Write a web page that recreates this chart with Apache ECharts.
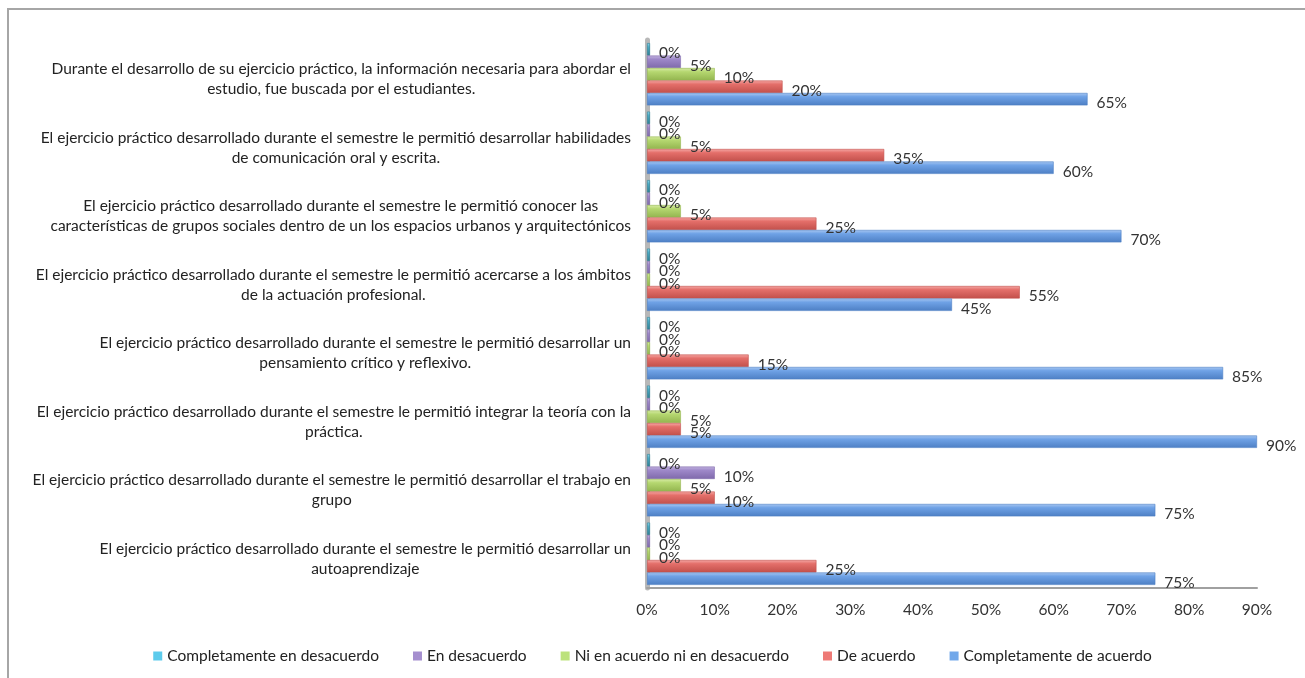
<!DOCTYPE html>
<html>
<head>
<meta charset="utf-8">
<script src="https://cdn.jsdelivr.net/npm/echarts@6/dist/echarts.min.js"></script>
<style>
  html, body { margin: 0; padding: 0; background: #fff; overflow: hidden; }
  #frame {
    position: absolute; left: 7px; top: 8px; width: 1400px; height: 800px;
    border-left: 2px solid #a6a6a6; border-top: 2px solid #a6a6a6;
  }
  #chart { position: absolute; left: 0; top: 0; width: 1305px; height: 678px; }
</style>
</head>
<body>
<div id="frame"></div>
<div id="chart"></div>
<script>
// Survey statements, listed top to bottom
const categories = [
  "Durante el desarrollo de su ejercicio práctico, la información necesaria para abordar el\nestudio, fue buscada por el estudiantes.",
  "El ejercicio práctico desarrollado durante el semestre le permitió desarrollar habilidades\nde comunicación oral y escrita.",
  "El ejercicio práctico desarrollado durante el semestre le permitió conocer las\ncaracterísticas de grupos sociales dentro de un los espacios urbanos y arquitectónicos",
  "El ejercicio práctico desarrollado durante el semestre le permitió acercarse a los ámbitos\nde la actuación profesional.",
  "El ejercicio práctico desarrollado durante el semestre le permitió desarrollar un\npensamiento crítico y reflexivo.",
  "El ejercicio práctico desarrollado durante el semestre le permitió integrar la teoría con la\npráctica.",
  "El ejercicio práctico desarrollado durante el semestre le permitió desarrollar el trabajo en\ngrupo",
  "El ejercicio práctico desarrollado durante el semestre le permitió desarrollar un\nautoaprendizaje"
];

const seriesNames = [
  "Completamente en desacuerdo",
  "En desacuerdo",
  "Ni en acuerdo ni en desacuerdo",
  "De acuerdo",
  "Completamente de acuerdo"
];

// Percentages per statement (same order as categories)
const completamenteDesacuerdo = [0, 0, 0, 0, 0, 0, 0, 0];
const enDesacuerdo            = [5, 0, 0, 0, 0, 0, 10, 0];
const niAcuerdoNiDesacuerdo   = [10, 5, 5, 0, 0, 5, 5, 0];
const deAcuerdo               = [20, 35, 25, 55, 15, 5, 10, 25];
const completamenteAcuerdo    = [65, 60, 70, 45, 85, 90, 75, 75];

const xTicks = { min: 0, max: 90, interval: 10 };

// [top highlight, face, bottom shade, legend swatch]
const palette = [
  ["#8fd9ee", "#4bacc6", "#2f7f93", "#5ccbec"],
  ["#c3b5e0", "#9e88c9", "#7f69ab", "#a58fcf"],
  ["#d8eca6", "#b5d770", "#93b54f", "#bce27c"],
  ["#f5a9a6", "#e46f6a", "#c2504b", "#ee7a76"],
  ["#a9c8f2", "#6fa2e6", "#4d7fc4", "#72a8ea"]
];

const values = [completamenteDesacuerdo, enDesacuerdo, niAcuerdoNiDesacuerdo, deAcuerdo, completamenteAcuerdo];

const FONT = 'Lato';
const FS = 15.5;

function grad(c) {
  return new echarts.graphic.LinearGradient(0, 0, 0, 1, [
    { offset: 0, color: c[0] },
    { offset: 0.3, color: c[1] },
    { offset: 1, color: c[2] }
  ]);
}

const series = seriesNames.map((name, i) => ({
  name: name,
  type: 'bar',
  data: values[i],
  barGap: '0%',
  barCategoryGap: '9%',
  barMinHeight: 3,
  itemStyle: {
    color: grad(palette[i]),
    borderColor: palette[i][2],
    borderWidth: 0.6
  },
  label: {
    show: true,
    position: 'right',
    distance: 9,
    offset: [0, 4],
    formatter: '{c}%',
    fontFamily: FONT,
    fontSize: FS,
    color: '#333'
  }
}));

const chart = echarts.init(document.getElementById('chart'), null, { renderer: 'canvas' });
chart.setOption({
  animation: false,
  color: palette.map(p => p[1]),
  grid: { left: 647, right: 48, top: 40, height: 548, containLabel: false },
  xAxis: {
    type: 'value',
    min: xTicks.min, max: xTicks.max, interval: xTicks.interval,
    axisLine: { show: true, lineStyle: { color: '#a0a0a0', width: 2 } },
    axisTick: { show: false },
    splitLine: { show: false },
    axisLabel: {
      formatter: '{value}%',
      fontFamily: FONT, fontSize: FS, color: '#333', margin: 14
    }
  },
  yAxis: {
    type: 'category',
    inverse: true,
    data: categories,
    axisLine: { show: true, lineStyle: { color: '#b8b8b8', width: 5 } },
    axisTick: { show: false },
    axisLabel: {
      margin: 16,
      padding: [10, 0, 0, 0],
      formatter: function (v) {
        return v.split('\n').map(s => '{c|' + s + '}').join('\n');
      },
      rich: {
        c: { align: 'center', fontFamily: FONT, fontSize: FS, color: '#222', lineHeight: 20 }
      }
    }
  },
  legend: {
    data: seriesNames.map((n, i) => ({ name: n, itemStyle: { color: palette[i][3], borderWidth: 0 } })),
    bottom: 9,
    left: 'center',
    icon: 'rect',
    itemWidth: 9,
    itemHeight: 9,
    itemGap: 34,
    textStyle: { fontFamily: FONT, fontSize: FS, color: '#222' }
  },
  series: series
});
</script>
</body>
</html>
